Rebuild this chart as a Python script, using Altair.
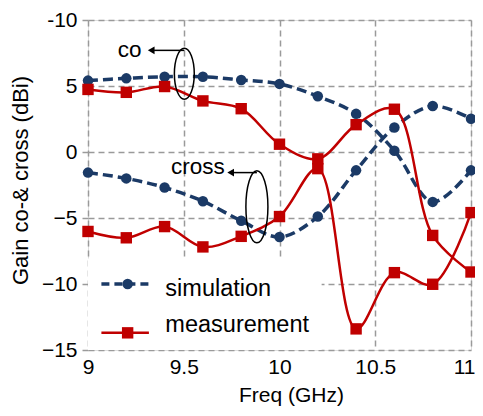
import altair as alt
import pandas as pd

freq = [9.0, 9.2, 9.4, 9.6, 9.8, 10.0, 10.2, 10.4, 10.6, 10.8, 11.0]
sim_co = [5.41, 5.58, 5.70, 5.70, 5.46, 5.16, 4.22, 2.89, 0.10, -3.78, -1.39]
sim_cross = [-1.56, -2.00, -2.69, -3.73, -5.21, -6.44, -4.89, -1.39, 1.85, 3.48, 2.52]
meas_co = [4.74, 4.52, 4.96, 3.87, 3.28, 0.59, -0.52, 2.07, 3.24, -6.32, -9.09]
meas_cross = [-6.02, -6.50, -5.65, -7.19, -6.39, -4.89, -1.26, -13.40, -9.14, -10.02, -4.59]

x_ticks = [9, 9.5, 10, 10.5, 11]
y_ticks = [-15, -10, -5, 0, 5, 10]

BLUE = "#1b3a66"
RED = "#c00000"
FONT = "Liberation Sans"

rows = []
for name, kind, vals in [("sim_co", "simulation", sim_co), ("sim_cross", "simulation", sim_cross),
                         ("meas_co", "measurement", meas_co), ("meas_cross", "measurement", meas_cross)]:
    for f, v in zip(freq, vals):
        rows.append({"series": name, "kind": kind, "freq": f, "gain": v})
df = pd.DataFrame(rows)

xs = alt.Scale(domain=[9, 11], nice=False, zero=False)
ys = alt.Scale(domain=[-15, 10], nice=False, zero=False)

x_axis = alt.Axis(
    values=x_ticks, format="~g", title="Freq (GHz)", grid=True,
    gridDash=[6, 4], gridColor="#9a9a9a", gridWidth=1.5,
    labelFontSize=21, labelFont=FONT, labelColor="black", labelPadding=6,
    labelFlush=False, ticks=False, domain=False,
    labelAlign={"condition": {"test": "datum.value == 11", "value": "right"}, "value": "center"},
    labelOffset={"condition": {"test": "datum.value == 11", "value": 4}, "value": 0},
    titleFontSize=21, titleFont=FONT, titleFontWeight="normal", titleColor="black",
    titleX=203, titleY=45, titleBaseline="middle",
)
y_axis = alt.Axis(
    values=y_ticks, title="Gain co-& cross (dBi)", grid=True,
    gridDash=[6, 4], gridColor="#9a9a9a", gridWidth=1.5,
    labelFontSize=21, labelFont=FONT, labelColor="black", labelPadding=5,
    labelFlush=False, ticks=True, tickSize=6, tickColor="#9a9a9a", tickWidth=1.5, domain=False,
    labelExpr="datum.value == 10 ? '-10' : datum.label",
    titleFontSize=22, titleFont=FONT, titleFontWeight="normal", titleColor="black",
    titleX=-68, titleY=160, titleAngle=-90, titleAlign="center", titleBaseline="middle",
)

# legend background (white box hiding the grid)
leg_bg = pd.DataFrame({"x": [9.0], "x2": [10.22], "y": [-15.0], "y2": [-8.07]})
bg = alt.Chart(leg_bg).mark_rect(color="white").encode(
    x=alt.X("x:Q", scale=xs, axis=x_axis), x2="x2:Q",
    y=alt.Y("y:Q", scale=ys, axis=y_axis), y2="y2:Q")

sim = df[df.kind == "simulation"]
meas = df[df.kind == "measurement"]

sim_line = alt.Chart(sim).mark_line(color=BLUE, strokeWidth=3.5, strokeDash=[10, 5],
                                    interpolate="catmull-rom").encode(
    x=alt.X("freq:Q", scale=xs), y=alt.Y("gain:Q", scale=ys), detail="series:N")
sim_pts = alt.Chart(sim).mark_point(shape="circle", filled=True, opacity=1, color=BLUE, size=110).encode(
    x=alt.X("freq:Q", scale=xs), y=alt.Y("gain:Q", scale=ys))
meas_line = alt.Chart(meas).mark_line(color=RED, strokeWidth=2.5,
                                      interpolate="catmull-rom").encode(
    x=alt.X("freq:Q", scale=xs), y=alt.Y("gain:Q", scale=ys), detail="series:N")
meas_pts = alt.Chart(meas).mark_point(shape="square", filled=True, opacity=1, color=RED, size=130).encode(
    x=alt.X("freq:Q", scale=xs), y=alt.Y("gain:Q", scale=ys))

# legend entries
leg_x1, leg_x2, leg_xm, leg_tx = 9.07, 9.318, 9.207, 9.404
leg_sim = pd.DataFrame({"x": [leg_x1], "x2": [leg_x2], "y": [-10.0]})
leg_meas = pd.DataFrame({"x": [leg_x1], "x2": [leg_x2], "y": [-13.7]})
l1 = alt.Chart(leg_sim).mark_rule(color=BLUE, strokeWidth=3.5, strokeDash=[8, 5]).encode(
    x=alt.X("x:Q", scale=xs), x2="x2:Q", y=alt.Y("y:Q", scale=ys))
l1p = alt.Chart(pd.DataFrame({"x": [leg_xm], "y": [-10.0]})).mark_point(
    shape="circle", filled=True, opacity=1, color=BLUE, size=110).encode(
    x=alt.X("x:Q", scale=xs), y=alt.Y("y:Q", scale=ys))
l2 = alt.Chart(leg_meas).mark_rule(color=RED, strokeWidth=2.5).encode(
    x=alt.X("x:Q", scale=xs), x2="x2:Q", y=alt.Y("y:Q", scale=ys))
l2p = alt.Chart(pd.DataFrame({"x": [leg_xm], "y": [-13.7]})).mark_point(
    shape="square", filled=True, opacity=1, color=RED, size=130).encode(
    x=alt.X("x:Q", scale=xs), y=alt.Y("y:Q", scale=ys))
leg_text = pd.DataFrame({"x": [leg_tx, leg_tx], "y": [-10.89, -13.6],
                         "t": ["simulation", "measurement"]})
lt = alt.Chart(leg_text).mark_text(align="left", baseline="alphabetic", fontSize=23.5,
                                   font=FONT, color="black").encode(
    x=alt.X("x:Q", scale=xs), y=alt.Y("y:Q", scale=ys), text="t:N")

# annotations
ann_text = pd.DataFrame({"x": [9.155, 9.434], "y": [7.19, -1.7], "t": ["co", "cross"]})
at = alt.Chart(ann_text).mark_text(align="left", baseline="alphabetic", fontSize=22.5,
                                   font=FONT, color="black").encode(
    x=alt.X("x:Q", scale=xs), y=alt.Y("y:Q", scale=ys), text="t:N")
arrows = pd.DataFrame({"x": [9.345, 9.760], "x2": [9.503, 9.882], "y": [7.7, -1.56]})
ar = alt.Chart(arrows).mark_rule(color="black", strokeWidth=1.5).encode(
    x=alt.X("x:Q", scale=xs), x2="x2:Q", y=alt.Y("y:Q", scale=ys))
heads = pd.DataFrame({"x": [9.33, 9.745], "y": [7.7, -1.56]})
ah = alt.Chart(heads).mark_point(shape="triangle-left", filled=True, opacity=1,
                                 color="black", size=60).encode(
    x=alt.X("x:Q", scale=xs), y=alt.Y("y:Q", scale=ys))

def ellipse(r):
    return f"M {-r},0 A {r},1 0 1,1 {r},0 A {r},1 0 1,1 {-r},0 Z"

e1 = alt.Chart(pd.DataFrame({"x": [9.503], "y": [5.93]})).mark_point(
    shape=ellipse(0.39), filled=False, color="black", strokeWidth=1.5, size=2601, opacity=1).encode(
    x=alt.X("x:Q", scale=xs), y=alt.Y("y:Q", scale=ys))
e2 = alt.Chart(pd.DataFrame({"x": [9.882], "y": [-4.15]})).mark_point(
    shape=ellipse(0.306), filled=False, color="black", strokeWidth=1.5, size=5184, opacity=1).encode(
    x=alt.X("x:Q", scale=xs), y=alt.Y("y:Q", scale=ys))

chart = alt.layer(bg, sim_line, meas_line, sim_pts, meas_pts, l1, l1p, l2, l2p, lt,
                  at, ar, ah, e1, e2).properties(
    width=383, height=330,
    autosize=alt.AutoSizeParams(type="none"),
    padding={"left": 80, "top": 12, "right": 4, "bottom": 58},
).configure_view(stroke="black", strokeWidth=2.5).configure(background="white")

chart.save("out.html", embed_options={"renderer": "svg", "actions": False})
